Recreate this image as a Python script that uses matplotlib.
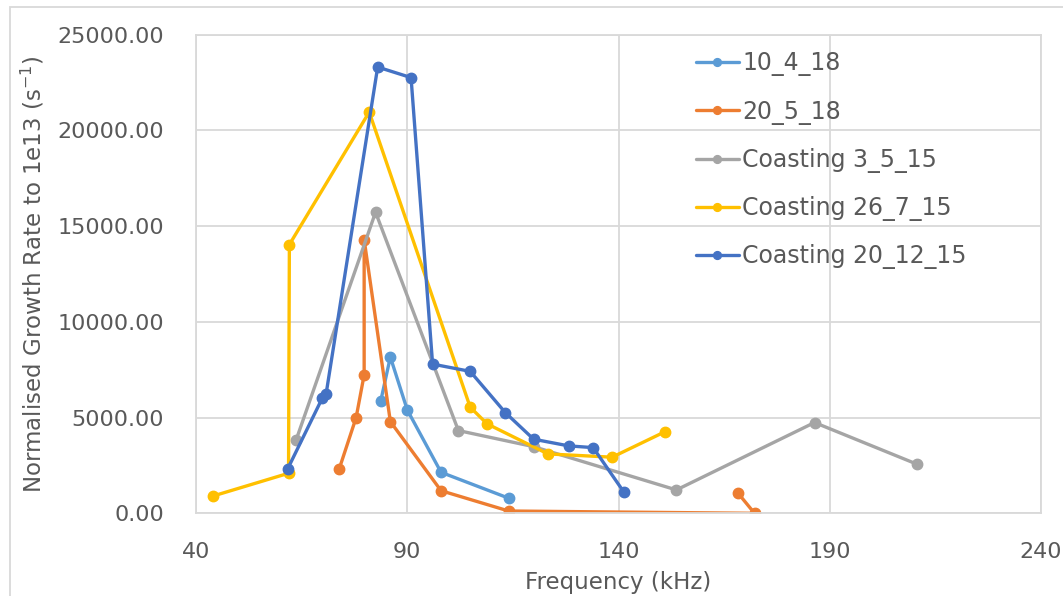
import matplotlib
matplotlib.use('Agg')
import matplotlib.pyplot as plt
from matplotlib.patches import Rectangle
from matplotlib.ticker import FuncFormatter

# growth rate vs frequency, one run per series
series_names = ['10_4_18', '20_5_18', 'Coasting 3_5_15',
                'Coasting 26_7_15', 'Coasting 20_12_15']

freq_10_4_18 = [83.7, 86.0, 90.0, 98.0, 114.0]
rate_10_4_18 = [5840, 8160, 5400, 2140, 790]

freq_20_5_18 = [73.9, 77.9, 79.8, 79.8, 86.0, 98.0, 114.0, 172.2, 168.3]
rate_20_5_18 = [2320, 5000, 7230, 14290, 4790, 1180, 120, 0, 1050]

freq_3_5_15 = [63.7, 82.5, 102.1, 119.9, 153.7, 186.4, 210.7]
rate_3_5_15 = [3830, 15720, 4320, 3480, 1220, 4740, 2560]

freq_26_7_15 = [44.0, 61.9, 62.1, 81.0, 104.9, 108.9, 123.3, 138.5, 151.1]
rate_26_7_15 = [900, 2090, 14030, 20950, 5540, 4670, 3100, 2930, 4270]

freq_20_12_15 = [61.7, 69.9, 70.8, 83.0, 90.9, 96.0, 104.9, 113.2, 119.9,
                 128.2, 134.0, 141.2]
rate_20_12_15 = [2320, 6020, 6240, 23300, 22750, 7790, 7410, 5260, 3870,
                 3520, 3430, 1130]

x_ticks = [40, 90, 140, 190, 240]
y_ticks = [0, 5000, 10000, 15000, 20000, 25000]

colours = ['#5B9BD5', '#ED7D31', '#A5A5A5', '#FFC000', '#4472C4']
TEXT_COL = '#595959'
GRID_COL = '#D9D9D9'

plt.rcParams['font.family'] = 'DejaVu Sans'

fig = plt.figure(figsize=(10.63, 5.96), dpi=100)
ax = fig.add_axes([196 / 1063, 1 - 513.3 / 596,
                   (1041 - 196) / 1063, (513.3 - 34.5) / 596])

all_x = [freq_10_4_18, freq_20_5_18, freq_3_5_15, freq_26_7_15, freq_20_12_15]
all_y = [rate_10_4_18, rate_20_5_18, rate_3_5_15, rate_26_7_15, rate_20_12_15]

for xs, ys, name, col in zip(all_x, all_y, series_names, colours):
    ax.plot(xs, ys, color=col, lw=2.4, marker='o', markersize=7.5,
            label=name, solid_joinstyle='round', solid_capstyle='round')

ax.set_xlim(40, 240)
ax.set_ylim(0, 25000)
ax.set_xticks(x_ticks)
ax.set_yticks(y_ticks)
ax.yaxis.set_major_formatter(FuncFormatter(lambda v, _: f'{v:.2f}'))
ax.grid(True, color=GRID_COL, lw=1.3)
ax.set_axisbelow(True)
for sp in ax.spines.values():
    sp.set_color(GRID_COL)
    sp.set_linewidth(1.3)
ax.tick_params(axis='both', length=0, colors=TEXT_COL, labelsize=16, pad=21)
ax.tick_params(axis='y', pad=23)

ax.set_xlabel('Frequency (kHz)', fontsize=16.5, color=TEXT_COL, labelpad=6)
ax.set_ylabel('Normalised Growth Rate to 1e13 (s$^{-1}$)', fontsize=16.5,
              color=TEXT_COL, labelpad=8)

leg = ax.legend(loc='upper left', bbox_to_anchor=(696 / 1063, 1 - 51.5 / 596),
                bbox_transform=fig.transFigure, frameon=False, fontsize=17,
                borderpad=0, borderaxespad=0, handlelength=1.8,
                handletextpad=0.15, labelspacing=0.98, markerscale=0.75)
for txt in leg.get_texts():
    txt.set_color(TEXT_COL)

# light frame around the whole chart area
fig.patches.append(Rectangle((10 / 1063, -0.05), 1.1, 1.05 - 6.7 / 596,
                             transform=fig.transFigure, fill=False,
                             edgecolor=GRID_COL, lw=1.3))

fig.savefig('out.png', dpi=100)
